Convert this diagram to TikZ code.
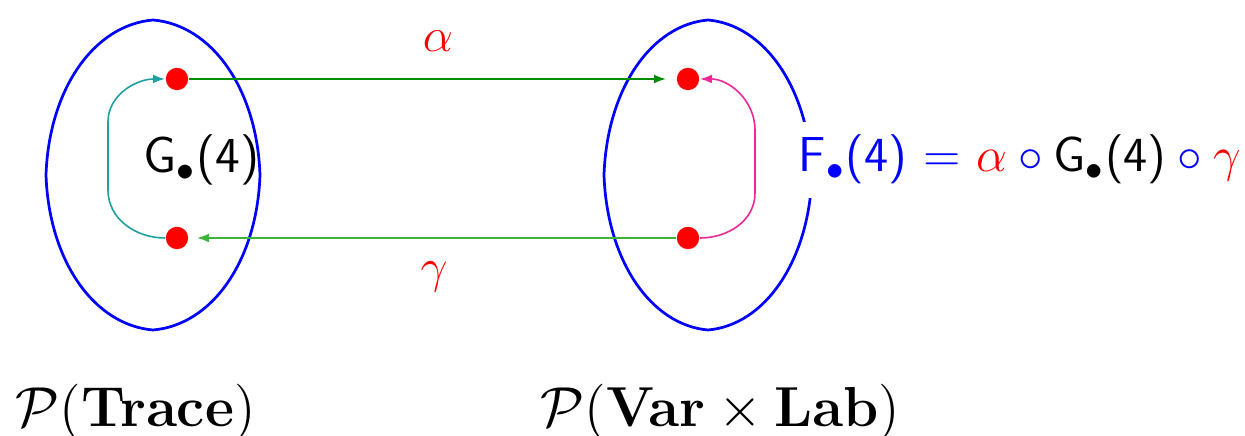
\documentclass[tikz,border=0pt]{standalone}
\usepackage{amsmath}
\usetikzlibrary{arrows.meta}
\definecolor{gdark}{RGB}{0,140,0}
\definecolor{glight}{RGB}{60,180,60}
\definecolor{tealc}{RGB}{32,160,160}
\definecolor{pinkc}{RGB}{235,40,150}
\begin{document}
\begin{tikzpicture}[x=0.25pt,y=-0.25pt,
  ell/.style={draw=blue,line width=0.68pt},
  dot/.style={circle,fill=red,inner sep=0pt,minimum size=5.6pt},
  gtip/.style={-{Latex[length=3pt,width=2.2pt]}},
  txt/.style={inner sep=0pt,font=\fontsize{12}{14}\selectfont},
  lbl/.style={inner sep=0pt,font=\fontsize{12}{14}\selectfont,scale=1.175}]
\useasboundingbox (0,0) rectangle (1245,436);
% ellipses
\begin{scope}[shift={(153,175)}]
\draw[ell] (-107,0) .. controls (-104,-86) and (-59,-150) .. (0,-155)
  .. controls (59,-150) and (104,-86) .. (107,0)
  .. controls (104,86) and (59,150) .. (0,155)
  .. controls (-59,150) and (-104,86) .. (-107,0) -- cycle;
\end{scope}
\begin{scope}[shift={(708,175)}]
\draw[ell] (-104,0) .. controls (-101,-86) and (-57,-150) .. (0,-155)
  .. controls (57,-150) and (101,-86) .. (104,0)
  .. controls (101,86) and (57,150) .. (0,155)
  .. controls (-57,150) and (-101,86) .. (-104,0) -- cycle;
\end{scope}
% dots
\node[dot] (lt) at (177,79) {};
\node[dot] (lb) at (177,238) {};
\node[dot] (rt) at (688,79) {};
\node[dot] (rb) at (688,238) {};
% green arrows
\draw[gdark,line width=0.4pt,gtip,shorten >=2.5pt] (lt) -- (rt);
\draw[glight,line width=0.4pt,gtip,shorten >=2pt] (rb) -- (lb);
% loops
\draw[tealc,line width=0.4pt,gtip] (lb.west) to[out=180,in=-90] (108,190) -- (108,122) to[out=90,in=180] (lt.west);
\draw[pinkc,line width=0.4pt,gtip] (rb.east) to[out=0,in=-90] (755,193) -- (755,130) to[out=90,in=0] (rt.east);
% labels
\node[txt,text=red] (alpha) at (438,41) {$\alpha$};
\node[txt,text=red] (gamma) at (434,277) {$\gamma$};
\node[txt,anchor=base west,scale=1.05] (G) at (143,173) {\textsf{G}$_\bullet$\textsf{(4)}};
\node[txt,anchor=base west,fill=white,inner ysep=3.3pt,scale=1.023] (F) at (798,172)
 {\textcolor{blue}{\textsf{F}$_\bullet$\textsf{(4)} $=$} $\textcolor{red}{\alpha}\mathbin{\textcolor{blue}{\circ}}\text{\textsf{G}}_\bullet\text{\textsf{(4)}}\mathbin{\textcolor{blue}{\circ}}\textcolor{red}{\gamma}$};
\node[lbl,anchor=base west] (PT) at (15,427) {$\mathcal{P}(\mathbf{Trace})$};
\node[lbl,anchor=base west] (PV) at (540,427) {$\mathcal{P}(\mathbf{Var}\times\mathbf{Lab})$};
\end{tikzpicture}
\end{document}
